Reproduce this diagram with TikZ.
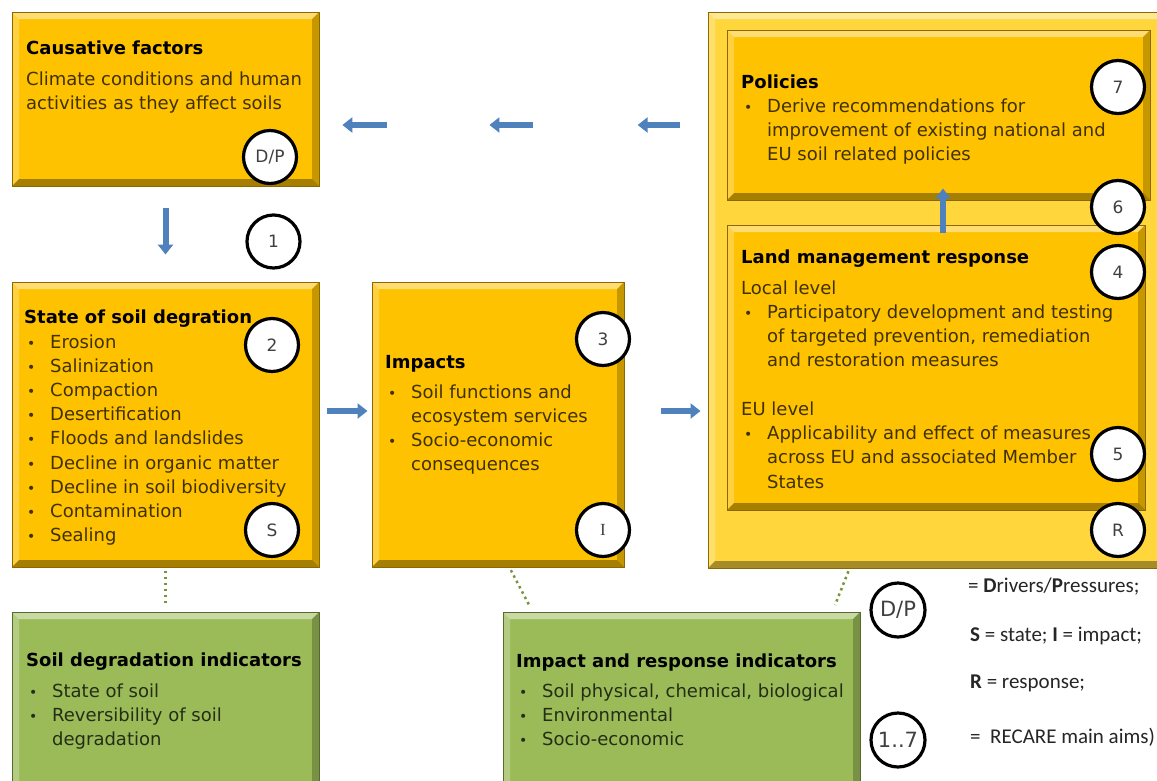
\documentclass[tikz,border=0pt]{standalone}
\usepackage{fontspec}
\setmainfont{DejaVu Sans}
\newfontfamily\legendfont{Carlito}
\newfontfamily\timesfont{Liberation Serif}
\usetikzlibrary{arrows.meta}
\usetikzlibrary{calc}

\definecolor{gold}{RGB}{255,194,0}
\definecolor{goldlight}{RGB}{255,214,60}
\definecolor{goldedge}{RGB}{140,104,0}
\definecolor{leaf}{RGB}{155,187,89}
\definecolor{leafedge}{RGB}{86,106,46}
\definecolor{flowblue}{RGB}{79,129,189}
\definecolor{dotgreen}{RGB}{119,147,60}
\definecolor{brownink}{RGB}{64,49,0}
\definecolor{greenink}{RGB}{36,46,22}
\definecolor{tagink}{RGB}{64,64,64}

\newcommand{\hd}[1]{{\bfseries\color{black}#1}}
\newcommand{\bul}{\makebox[26pt][l]{\hspace{3pt}{\fontsize{14}{14}\selectfont\textbullet}}}
\newcommand{\ind}{\hspace*{26pt}}

\tikzset{
  bevel/.style={path picture={
    \fill[white,opacity=.45] (path picture bounding box.north west) -- (path picture bounding box.north east)
      -- ([xshift=-#1,yshift=-#1]path picture bounding box.north east) -- ([xshift=#1,yshift=-#1]path picture bounding box.north west) -- cycle;
    \fill[white,opacity=.25] (path picture bounding box.north west) -- (path picture bounding box.south west)
      -- ([xshift=#1,yshift=#1]path picture bounding box.south west) -- ([xshift=#1,yshift=-#1]path picture bounding box.north west) -- cycle;
    \fill[black,opacity=.35] (path picture bounding box.south west) -- (path picture bounding box.south east)
      -- ([xshift=-#1,yshift=#1]path picture bounding box.south east) -- ([xshift=#1,yshift=#1]path picture bounding box.south west) -- cycle;
    \fill[black,opacity=.22] (path picture bounding box.north east) -- (path picture bounding box.south east)
      -- ([xshift=-#1,yshift=#1]path picture bounding box.south east) -- ([xshift=-#1,yshift=-#1]path picture bounding box.north east) -- cycle;
  }},
  bevel/.default=7pt,
  ybox/.style={rectangle, fill=gold, draw=goldedge, line width=1pt, bevel, inner sep=0pt},
  outerbox/.style={ybox, fill=goldlight},
  gbox/.style={rectangle, fill=leaf, draw=leafedge, line width=1pt, bevel, inner sep=0pt},
  txt/.style={anchor=north west, inner sep=0pt, align=left, text=brownink, font=\fontsize{18}{24.2}\selectfont},
  gtxt/.style={txt, text=greenink},
  tag/.style={circle, draw=black, line width=3.2pt, fill=white, minimum size=53pt, inner sep=0pt, text=tagink, font=\fontsize{17}{17}\selectfont},
  keytag/.style={tag, minimum size=54pt, font=\fontsize{21}{21}\selectfont},
  key/.style={anchor=base west, inner sep=0pt, text=black!85, font=\legendfont\fontsize{21}{21}\selectfont},
  flow/.style={draw=flowblue, line width=6pt, -{Triangle[width=15pt,length=10pt]}},
  dotline/.style={draw=dotgreen, line width=2.5pt, dash pattern=on 2.5pt off 3.5pt}
}

\begin{document}
\begin{tikzpicture}[x=1pt, y=-1pt]
  \useasboundingbox (0,0) rectangle (1157,780);
  \fill[white] (0,0) rectangle (1157,780);

  \node[ybox, minimum width=307pt, minimum height=174pt] (causes) at (165.5,99) {};
  \node[ybox, minimum width=307pt, minimum height=285pt] (state) at (165.5,424.5) {};
  \node[ybox, minimum width=252pt, minimum height=285pt] (impacts) at (498,424.5) {};
  \node[outerbox, minimum width=458pt, minimum height=556pt] (outer) at (937,290) {};
  \node[ybox, minimum width=423pt, minimum height=170pt] (pol) at (938.5,115) {};
  \node[ybox, minimum width=418pt, minimum height=285pt] (land) at (936,367.5) {};
  \node[gbox, minimum width=307pt, minimum height=178pt] (sdi) at (165.5,701) {};
  \node[gbox, minimum width=357pt, minimum height=178pt] (iri) at (681.5,701) {};

  \node[txt] (causesTxt) at (26,41) {\hd{Causative factors}\\[6pt]
    Climate conditions and human\\
    activities as they affect soils};
  \node[txt] (stateTxt) at (24,310) {\hd{State of soil degration}\\
    \bul Erosion\\
    \bul Salinization\\
    \bul Compaction\\
    \bul Desertification\\
    \bul Floods and landslides\\
    \bul Decline in organic matter\\
    \bul Decline in soil biodiversity\\
    \bul Contamination\\
    \bul Sealing};
  \node[txt] (impactsTxt) at (385,355.5) {\hd{Impacts}\\[5pt]
    \bul Soil functions and\\
    \ind ecosystem services\\
    \bul Socio-economic\\
    \ind consequences};
  \node[txt] (polTxt) at (741,74.5) {\hd{Policies}\\
    \bul Derive recommendations for\\
    \ind improvement of existing national and\\
    \ind EU soil related policies};
  \node[txt] (landTxt) at (741,250) {\hd{Land management response}\\[6pt]
    Local level\\
    \bul Participatory development and testing\\
    \ind of targeted prevention, remediation\\
    \ind and restoration measures\\[24.6pt]
    EU level\\
    \bul Applicability and effect of measures\\
    \ind across EU and associated Member\\
    \ind States};
  \node[gtxt] (sdiTxt) at (26,653) {\hd{Soil degradation indicators}\\[6pt]
    \bul State of soil\\
    \bul Reversibility of soil\\
    \ind degradation};
  \node[gtxt] (iriTxt) at (516,654) {\hd{Impact and response indicators}\\[5pt]
    \bul Soil physical, chemical, biological\\
    \bul Environmental\\
    \bul Socio-economic};

  \node[tag] (dpTag) at (270,157) {D/P};
  \node[tag] (oneTag) at (273.5,241.5) {1};
  \node[tag] (twoTag) at (272,345) {2};
  \node[tag] (sTag) at (272,530) {S};
  \node[tag] (threeTag) at (603,339) {3};
  \node[tag] (iTag) at (603,530) {\timesfont I};
  \node[tag] (sevenTag) at (1118,87) {7};
  \node[tag] (sixTag) at (1118,207) {6};
  \node[tag] (fourTag) at (1118,272) {4};
  \node[tag] (fiveTag) at (1118,454) {5};
  \node[tag] (rTag) at (1118,530) {R};

  \draw[flow, shorten <=21pt, shorten >=27pt] (causes.south) -- (state.north);
  \coordinate (midS) at ([yshift=13.5pt]state.east);
  \draw[flow, shorten <=7pt, shorten >=4pt] (midS) -- (impacts.west |- midS);
  \coordinate (midI) at ([yshift=13.5pt]impacts.east);
  \draw[flow, shorten <=36pt, shorten >=7pt] (midI) -- (outer.west |- midI);
  \coordinate (upA) at ([xshift=7pt]land.north);
  \draw[flow, shorten <=-8pt, shorten >=-12pt] (upA) -- (pol.south -| upA);
  \coordinate (gapL) at ([yshift=-26pt]causes.east);
  \coordinate (gapR) at (outer.west |- gapL);
  \foreach \a/\b in {0.059/0.173, 0.438/0.549, 0.820/0.930}
    \draw[flow] ($(gapL)!\b!(gapR)$) -- ($(gapL)!\a!(gapR)$);

  \draw[dotline, shorten <=3pt, shorten >=7pt] (state.south) -- (sdi.north);
  \draw[dotline, shorten <=3pt, shorten >=7pt] ([xshift=138pt]impacts.south west) -- ([xshift=30pt]iri.north west);
  \draw[dotline, shorten <=3pt, shorten >=7pt] ([xshift=142pt]outer.south west) -- ([xshift=330pt]iri.north west);

  \node[keytag] (dpKey) at (898,610) {D/P};
  \node[keytag] (aimsKey) at (898,740) {1..7};
  \node[key] (keyDP) at (968,592) {= \textbf{D}rivers/\textbf{P}ressures;};
  \node[key] (keySI) at (970,641) {\textbf{S} = state; \textbf{I} = impact;};
  \node[key] (keyR) at (970,688) {\textbf{R} = response;};
  \node[key] (keyAims) at (970,743) {=\ \ RECARE main aims)};
\end{tikzpicture}
\end{document}
